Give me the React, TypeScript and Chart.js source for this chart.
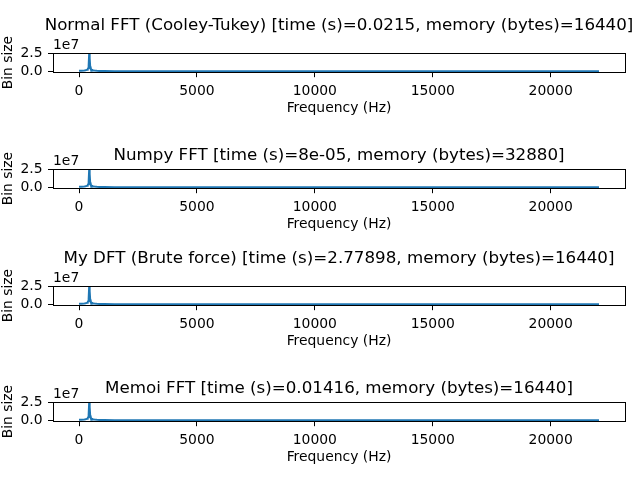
import React, { useEffect, useRef } from "react";
import { Chart, registerables } from "chart.js";

Chart.register(...registerables);

// ---- data ----
const frequencyHz = [
  0, 108, 215, 280, 323, 345, 366, 388, 409, 431, 452, 474, 495, 517, 538, 581,
  646, 754, 861, 1077, 1507, 2153, 4307, 8613, 15073, 22050,
];
const binSize = [
  0.08e7, 0.07e7, 0.1e7, 0.14e7, 0.2e7, 0.24e7, 0.31e7, 0.44e7, 0.75e7, 2.49e7,
  1.88e7, 0.68e7, 0.42e7, 0.3e7, 0.23e7, 0.16e7, 0.11e7, 0.074e7, 0.055e7,
  0.036e7, 0.022e7, 0.013e7, 0.006e7, 0.003e7, 0.002e7, 0.001e7,
];
const plotTitles = [
  "Normal FFT (Cooley-Tukey) [time (s)=0.0215, memory (bytes)=16440]",
  "Numpy FFT [time (s)=8e-05, memory (bytes)=32880]",
  "My DFT (Brute force) [time (s)=2.77898, memory (bytes)=16440]",
  "Memoi FFT [time (s)=0.01416, memory (bytes)=16440]",
];
const xTicks = [0, 5000, 10000, 15000, 20000];
const yTicks = [0, 2.5e7];
const xMin = -1102.5;
const xMax = 23152.5;
const yMin = -1.245e6;
const yMax = 2.6145e7;
const offsetLabel = "1e7";
const xLabel = "Frequency (Hz)";
const yLabel = "Bin size";

// ---- layout ----
const FONT = "'DejaVu Sans', sans-serif";
const CANVAS_W = 640;
const CANVAS_H = 117;
const panelTops = [0, 116, 233, 349];
const titleLift = [23.2, 9.5, 23.2, 9.5];

function Panel({ index }: { index: number }) {
  const ref = useRef<HTMLCanvasElement>(null);
  useEffect(() => {
    if (!ref.current) return;
    const decor = {
      id: "decor",
      afterDraw(chart: any) {
        const { ctx, chartArea: a } = chart;
        ctx.save();
        ctx.strokeStyle = "#000";
        ctx.lineWidth = 1;
        const l = Math.round(a.left);
        const t = Math.round(a.top);
        const r = Math.round(a.right);
        const b = Math.round(a.bottom);
        ctx.strokeRect(l + 0.5, t + 0.5, r - l, b - t);
        ctx.fillStyle = "#000";
        ctx.font = `13.9px ${FONT}`;
        ctx.textAlign = "left";
        ctx.textBaseline = "alphabetic";
        ctx.fillText(offsetLabel, a.left, a.top - 4.4);
        ctx.font = `16.7px ${FONT}`;
        ctx.textAlign = "center";
        ctx.fillText(plotTitles[index], (a.left + a.right) / 2, a.top - titleLift[index]);
        ctx.restore();
      },
    };
    const chart = new Chart(ref.current, {
      type: "line",
      data: {
        datasets: [
          {
            data: frequencyHz.map((f, i) => ({ x: f, y: binSize[i] })),
            borderColor: "#1f77b4",
            borderWidth: 2,
            pointRadius: 0,
            fill: false,
            tension: 0,
          },
        ],
      },
      options: {
        responsive: false,
        animation: false,
        events: [],
        layout: { padding: { top: 53, left: 0, right: 15, bottom: 0 } },
        plugins: {
          legend: { display: false },
          tooltip: { enabled: false },
          title: { display: false },
        },
        scales: {
          x: {
            type: "linear",
            min: xMin,
            max: xMax,
            afterBuildTicks: (s: any) => {
              s.ticks = xTicks.map((v) => ({ value: v }));
            },
            afterFit: (s: any) => {
              s.height = 44.8;
            },
            grid: {
              drawOnChartArea: false,
              drawTicks: true,
              tickLength: 5,
              color: "#000",
              lineWidth: 1,
            },
            border: { display: false },
            ticks: {
              color: "#000",
              font: { family: FONT, size: 13.9 },
              padding: 5.5,
              maxRotation: 0,
              autoSkip: false,
              callback: (v: any) => String(v),
            },
            title: {
              display: true,
              text: xLabel,
              color: "#000",
              font: { family: FONT, size: 13.9 },
              padding: { top: 0, bottom: 0 },
            },
          },
          y: {
            type: "linear",
            min: yMin,
            max: yMax,
            afterBuildTicks: (s: any) => {
              s.ticks = yTicks.map((v) => ({ value: v }));
            },
            afterFit: (s: any) => {
              s.width = 53;
            },
            grid: {
              drawOnChartArea: false,
              drawTicks: true,
              tickLength: 5,
              color: "#000",
              lineWidth: 1,
            },
            border: { display: false },
            ticks: {
              color: "#000",
              font: { family: FONT, size: 13.9 },
              padding: 5.5,
              autoSkip: false,
              callback: (v: any) => (Number(v) / 1e7).toFixed(1),
            },
            title: {
              display: true,
              text: yLabel,
              color: "#000",
              font: { family: FONT, size: 13.9 },
              padding: { top: 0, bottom: 0 },
            },
          },
        },
      },
      plugins: [decor],
    } as any);
    return () => chart.destroy();
  }, [index]);
  return (
    <canvas
      ref={ref}
      width={CANVAS_W}
      height={CANVAS_H}
      style={{ position: "absolute", left: 0, top: panelTops[index], width: CANVAS_W, height: CANVAS_H }}
    />
  );
}

export default function App() {
  return (
    <div
      style={{
        position: "fixed",
        left: 0,
        top: 0,
        width: 640,
        height: 480,
        background: "#fff",
        overflow: "hidden",
      }}
    >
      {plotTitles.map((_, i) => (
        <Panel key={i} index={i} />
      ))}
    </div>
  );
}
